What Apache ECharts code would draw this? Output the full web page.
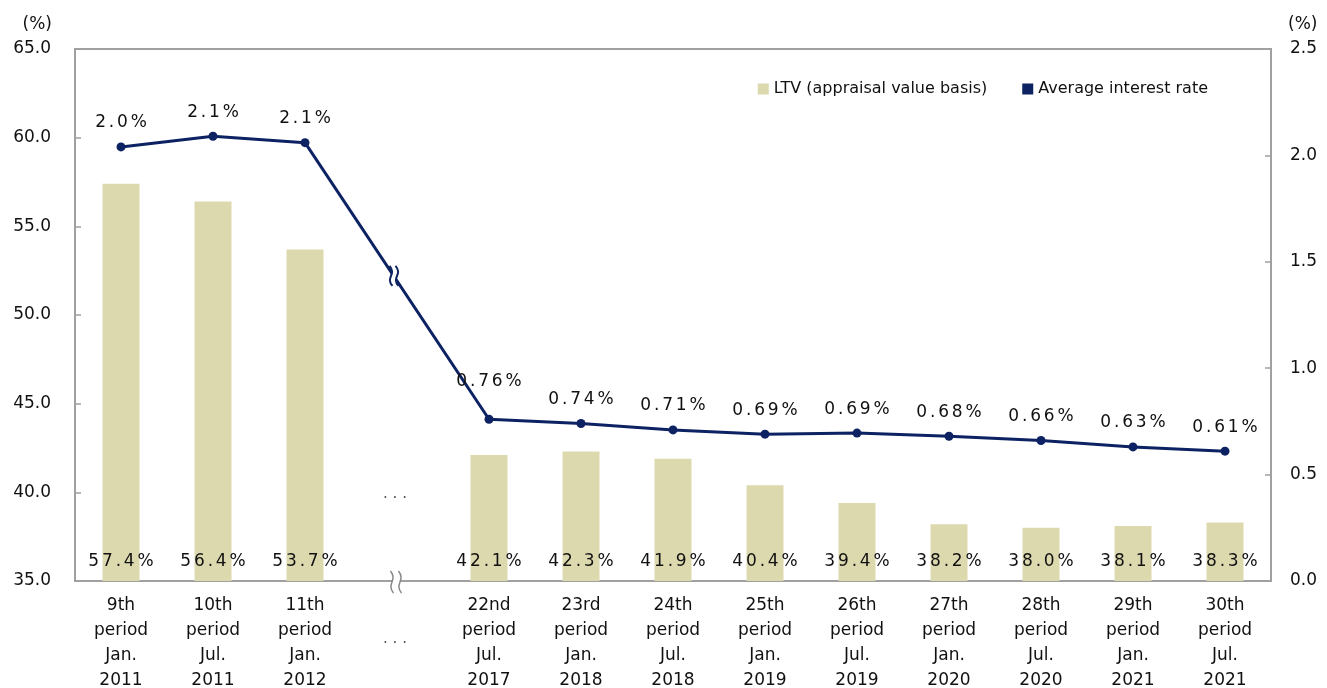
<!DOCTYPE html>
<html>
<head>
<meta charset="utf-8">
<script src="https://cdn.jsdelivr.net/npm/echarts@6/dist/echarts.min.js"></script>
<style>
  html, body { margin: 0; padding: 0; background: #fff; }
  #chart { width: 1327px; height: 688px; }
</style>
</head>
<body>
<div id="chart"></div>
<script>
// periods (the empty one is the "..." gap between 11th and 22nd)
const periods = ['9th\nperiod', '10th\nperiod', '11th\nperiod', '', '22nd\nperiod', '23rd\nperiod', '24th\nperiod',
  '25th\nperiod', '26th\nperiod', '27th\nperiod', '28th\nperiod', '29th\nperiod', '30th\nperiod']
const months = ['Jan.\n2011', 'Jul.\n2011', 'Jan.\n2012', '', 'Jul.\n2017', 'Jan.\n2018', 'Jul.\n2018',
  'Jan.\n2019', 'Jul.\n2019', 'Jan.\n2020', 'Jul.\n2020', 'Jan.\n2021', 'Jul.\n2021']
// LTV (appraisal value basis), %
const ltv = [57.4, 56.4, 53.7, null, 42.1, 42.3, 41.9, 40.4, 39.4, 38.2, 38.0, 38.1, 38.3]
// average interest rate, %
const rates = [2.04, 2.09, 2.06, null, 0.76, 0.74, 0.71, 0.69, 0.695, 0.68, 0.66, 0.63, 0.61]
const rateLabels = ['2.0%', '2.1%', '2.1%', '', '0.76%', '0.74%', '0.71%', '0.69%', '0.69%', '0.68%', '0.66%', '0.63%', '0.61%']
const leftTicks = [35, 65, 5]
const rightTicks = [0, 2.5, 0.5]

const FONT = 'DejaVu Sans'
const BAR = '#DDD9AF'
const NAVY = '#0D2262'
const AXIS = '#A0A0A0'

// spread the characters a little, like the original
const spaced = (s) => s.split('').join('\u2006')

const categories = periods.map((p, i) => (p ? p + '\n' + months[i] : ''))

const myChart = echarts.init(document.getElementById('chart'))
myChart.setOption({
  animation: false,
  textStyle: { fontFamily: FONT, color: '#111' },
  grid: {
    left: 75,
    right: 56,
    top: 49,
    bottom: 107,
    outerBoundsMode: 'none',
    containLabel: false,
    show: true,
    borderColor: AXIS,
    borderWidth: 2
  },
  legend: {
    right: 114,
    top: 76,
    icon: 'rect',
    itemWidth: 11,
    itemHeight: 11,
    itemGap: 35,
    textStyle: { fontFamily: FONT, fontSize: 16, color: '#111' },
    data: ['LTV (appraisal value basis)', 'Average interest rate']
  },
  xAxis: {
    type: 'category',
    data: categories,
    axisLine: { lineStyle: { color: AXIS, width: 2 } },
    axisTick: { inside: true, length: 5, lineStyle: { color: AXIS, width: 1.5 } },
    axisLabel: {
      interval: 0,
      margin: 12,
      fontFamily: FONT,
      fontSize: 17,
      lineHeight: 25,
      color: '#111'
    }
  },
  yAxis: [
    {
      type: 'value',
      min: leftTicks[0],
      max: leftTicks[1],
      interval: leftTicks[2],
      name: '(%)',
      nameLocation: 'end',
      nameGap: 16,
      nameTextStyle: { fontFamily: FONT, fontSize: 17, color: '#111', align: 'right', padding: [0, 23, 0, 0] },
      splitLine: { show: false },
      axisLine: { show: true, lineStyle: { color: AXIS, width: 2 } },
      axisTick: { show: true, inside: true, length: 6, lineStyle: { color: AXIS, width: 1.5 } },
      axisLabel: { margin: 24, fontSize: 17, color: '#111', formatter: (v) => v.toFixed(1) }
    },
    {
      type: 'value',
      min: rightTicks[0],
      max: rightTicks[1],
      interval: rightTicks[2],
      name: '(%)',
      nameLocation: 'end',
      nameGap: 16,
      nameTextStyle: { fontFamily: FONT, fontSize: 17, color: '#111', align: 'left', padding: [0, 0, 0, 17] },
      splitLine: { show: false },
      axisLine: { show: true, lineStyle: { color: AXIS, width: 2 } },
      axisTick: { show: true, inside: true, length: 6, lineStyle: { color: AXIS, width: 1.5 } },
      axisLabel: { margin: 19, fontSize: 17, color: '#111', formatter: (v) => v.toFixed(1) }
    }
  ],
  series: [
    {
      name: 'LTV (appraisal value basis)',
      type: 'bar',
      yAxisIndex: 0,
      data: ltv,
      barWidth: 37,
      itemStyle: { color: BAR },
      label: {
        show: true,
        position: 'insideBottom',
        distance: 11,
        fontFamily: FONT,
        fontSize: 17,
        color: '#111',
        formatter: (p) => spaced(p.value.toFixed(1) + '%')
      }
    },
    {
      name: 'Average interest rate',
      type: 'line',
      yAxisIndex: 1,
      // the 22nd period label sits higher so it clears the steep segment
      data: rates.map((v, i) => (i === 4 ? { value: v, label: { distance: 25 } } : v)),
      connectNulls: true,
      symbol: 'circle',
      symbolSize: 9,
      z: 5,
      lineStyle: { color: NAVY, width: 3 },
      itemStyle: { color: NAVY },
      label: {
        show: true,
        position: 'top',
        distance: 11,
        fontFamily: FONT,
        fontSize: 17,
        color: '#111',
        formatter: (p) => spaced(rateLabels[p.dataIndex])
      }
    }
  ]
})

// break marks on the line and on the axis, plus the dots in the gap
function breakMark(cx, cy, gap, h, color, width) {
  const curve = (dx) => ({
    type: 'bezierCurve',
    shape: {
      x1: cx + dx - 1.5, y1: cy - h,
      x2: cx + dx + 1.5, y2: cy + h,
      cpx1: cx + dx + 6, cpy1: cy - h * 0.15,
      cpx2: cx + dx - 6, cpy2: cy + h * 0.15
    },
    style: { stroke: color, lineWidth: width, fill: null },
    z: 100
  })
  return {
    type: 'group',
    children: [
      {
        type: 'rect',
        shape: { x: cx - gap / 2, y: cy - h - 2, width: gap, height: 2 * h + 4 },
        style: { fill: '#fff' },
        z: 99
      },
      curve(-gap / 2),
      curve(gap / 2)
    ]
  }
}

const gapIndex = 3
const a = myChart.convertToPixel({ xAxisIndex: 0, yAxisIndex: 1 }, [gapIndex - 1, rates[gapIndex - 1]])
const b = myChart.convertToPixel({ xAxisIndex: 0, yAxisIndex: 1 }, [gapIndex + 1, rates[gapIndex + 1]])
const gx = myChart.convertToPixel({ xAxisIndex: 0 }, gapIndex)
const axisY = myChart.convertToPixel({ yAxisIndex: 0 }, leftTicks[0])
const dotsY = myChart.convertToPixel({ yAxisIndex: 0 }, 40)
const dotsStyle = { text: '. . .', fontFamily: FONT, fontSize: 15, fill: '#555', align: 'center', verticalAlign: 'middle' }

myChart.setOption({
  graphic: [
    breakMark((a[0] + b[0]) / 2 - 3, (a[1] + b[1]) / 2 - 5, 6, 10, NAVY, 2),
    breakMark(gx - 1, axisY + 1, 8, 11, '#888', 1.5),
    { type: 'text', x: gx - 2, y: dotsY + 2, style: dotsStyle, z: 50 },
    { type: 'text', x: gx - 2, y: axisY + 58, style: dotsStyle, z: 50 }
  ]
})

window.addEventListener('resize', () => myChart.resize())
</script>
</body>
</html>
